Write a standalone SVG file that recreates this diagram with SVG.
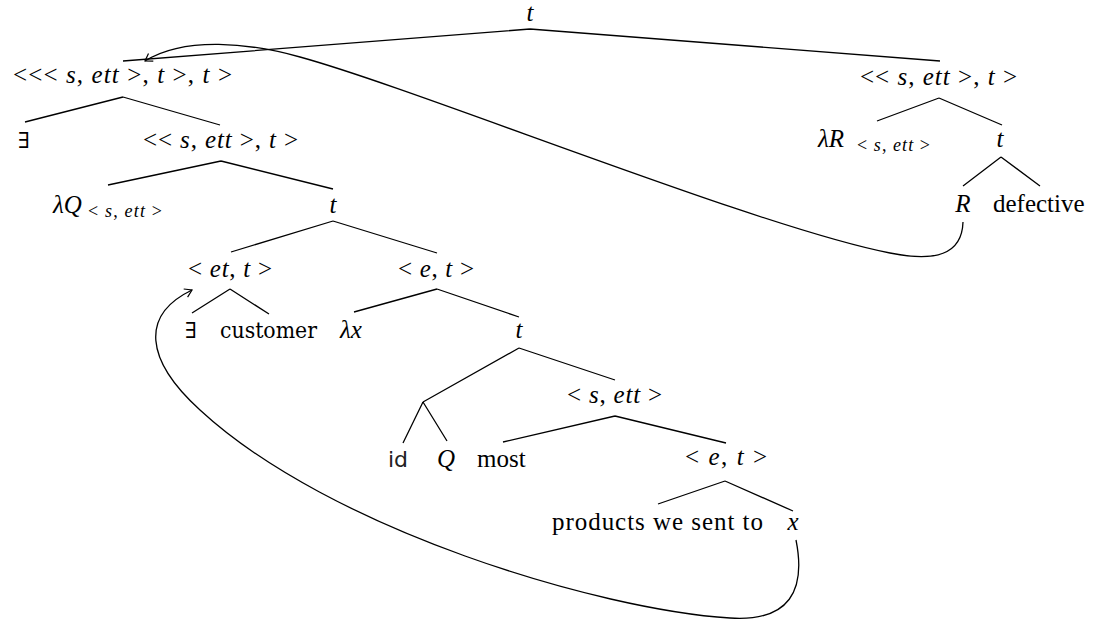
<svg xmlns="http://www.w3.org/2000/svg" width="1104" height="623" viewBox="0 0 1104 623">
<rect width="1104" height="623" fill="#fff"/>
<g id="connectors" stroke="#000" stroke-width="1.3" fill="none">
<path d="M530,29L123,61M530,29L940,61"/>
<path d="M123,97L25,122M123,97L220,125"/>
<path d="M221,161L108,185M221,161L333,189"/>
<path d="M333,221L231,252M333,221L437,253"/>
<path d="M230,289L192,313M230,289L269,314"/>
<path d="M437,289L354,312M437,289L519,317"/>
<path d="M519,348L423,402M519,348L615,380"/>
<path d="M423,402L403,443M423,402L447,441"/>
<path d="M615,416L503,442M615,416L726,443"/>
<path d="M725,481L658,504M725,481L793,511"/>
<path d="M939,98L877,121M939,98L1002,125"/>
<path d="M1001,157L963,186M1001,157L1040,186"/>
<path d="M963,222 C962,255 935,262 890,253 C760,228 420,90 300,57 C250,43 185,36 145,61"/>
<path d="M153.3,61.1 L145,61 L148.5,53.5" stroke-width="1.2"/>
<path d="M796,540 C806,590 790,622 730,618 C600,610 330,530 200,410 C145,360 140,315 192,290"/>
<path d="M187.6,297.1 L192,290 L183.7,289" stroke-width="1.2"/>
</g>
<g id="n_root"><text font-family="Times New Roman" font-size="25" font-style="italic" text-anchor="middle" x="530" y="21">t</text></g>
<g id="n_left"><text font-family="serif" font-size="25" text-anchor="middle" x="122.5" y="83" textLength="219" lengthAdjust="spacing">&lt;&lt;&lt; <tspan font-style="italic">s</tspan>, <tspan font-style="italic">ett</tspan> &gt;, <tspan font-style="italic">t</tspan> &gt;, <tspan font-style="italic">t</tspan> &gt;</text></g>
<g id="n_exists1"><text font-family="DejaVu Serif" font-size="22" text-anchor="middle" x="24" y="148">∃</text></g>
<g id="n_left2"><text font-family="Liberation Serif" font-size="25" text-anchor="middle" x="220.5" y="148" textLength="155" lengthAdjust="spacing">&lt;&lt; <tspan font-style="italic">s</tspan>, <tspan font-style="italic">ett</tspan> &gt;, <tspan font-style="italic">t</tspan> &gt;</text></g>
<g id="n_lamQ"><text font-family="Liberation Serif" font-size="25" font-style="italic" x="53" y="213">λQ</text><text font-family="Liberation Serif" font-size="18" x="88" y="217" textLength="74" lengthAdjust="spacing">&lt; <tspan font-style="italic">s</tspan>, <tspan font-style="italic">ett</tspan> &gt;</text></g>
<g id="n_t2"><text font-family="Liberation Serif" font-size="25" font-style="italic" text-anchor="middle" x="333" y="213">t</text></g>
<g id="n_ett"><text font-family="Times New Roman" font-size="25" text-anchor="middle" x="230" y="277" textLength="84" lengthAdjust="spacing">&lt; <tspan font-style="italic">et</tspan>, <tspan font-style="italic">t</tspan> &gt;</text></g>
<g id="n_et"><text font-family="Times New Roman" font-size="25" text-anchor="middle" x="436" y="277" textLength="76" lengthAdjust="spacing">&lt; <tspan font-style="italic">e</tspan>, <tspan font-style="italic">t</tspan> &gt;</text></g>
<g id="n_exists2"><text font-family="DejaVu Serif" font-size="22" text-anchor="middle" x="191" y="338">∃</text></g>
<g id="n_customer"><text font-family="DejaVu Serif" font-size="22" x="220" y="338" textLength="97" lengthAdjust="spacingAndGlyphs">customer</text></g>
<g id="n_lamx"><text font-family="Liberation Serif" font-size="25" font-style="italic" x="340" y="338">λx</text></g>
<g id="n_t3"><text font-family="Liberation Serif" font-size="25" font-style="italic" text-anchor="middle" x="519" y="338">t</text></g>
<g id="n_sett"><text font-family="Liberation Serif" font-size="25" text-anchor="middle" x="614.5" y="403" textLength="95" lengthAdjust="spacing">&lt; <tspan font-style="italic">s</tspan>, <tspan font-style="italic">ett</tspan> &gt;</text></g>
<g id="n_id"><text font-family="DejaVu Sans" x="388" y="467" font-size="22" fill="#222">id</text></g>
<g id="n_Q"><text font-family="Liberation Serif" font-size="25" font-style="italic" text-anchor="middle" x="446" y="467">Q</text></g>
<g id="n_most"><text font-family="Liberation Serif" font-size="25" x="477" y="467">most</text></g>
<g id="n_et2"><text font-family="Liberation Serif" font-size="25" text-anchor="middle" x="726" y="465" textLength="82" lengthAdjust="spacing">&lt; <tspan font-style="italic">e</tspan>, <tspan font-style="italic">t</tspan> &gt;</text></g>
<g id="n_products"><text font-family="Liberation Serif" font-size="25" x="552" y="530" textLength="211" lengthAdjust="spacing">products we sent to</text></g>
<g id="n_x"><text font-family="Liberation Serif" font-size="25" font-style="italic" text-anchor="middle" x="793" y="530">x</text></g>
<g id="n_right"><text font-family="Liberation Serif" font-size="25" text-anchor="middle" x="938.5" y="85" textLength="157" lengthAdjust="spacing">&lt;&lt; <tspan font-style="italic">s</tspan>, <tspan font-style="italic">ett</tspan> &gt;, <tspan font-style="italic">t</tspan> &gt;</text></g>
<g id="n_lamR"><text font-family="Liberation Serif" font-size="25" font-style="italic" x="818" y="147">λR</text><text font-family="Liberation Serif" font-size="18" x="857" y="151" textLength="73" lengthAdjust="spacing">&lt; <tspan font-style="italic">s</tspan>, <tspan font-style="italic">ett</tspan> &gt;</text></g>
<g id="n_t4"><text font-family="Liberation Serif" font-size="25" font-style="italic" text-anchor="middle" x="1000" y="147">t</text></g>
<g id="n_R"><text font-family="Liberation Serif" font-size="25" font-style="italic" text-anchor="middle" x="963" y="212">R</text></g>
<g id="n_defective"><text font-family="Liberation Serif" font-size="25" x="993" y="212">defective</text></g>
</svg>
